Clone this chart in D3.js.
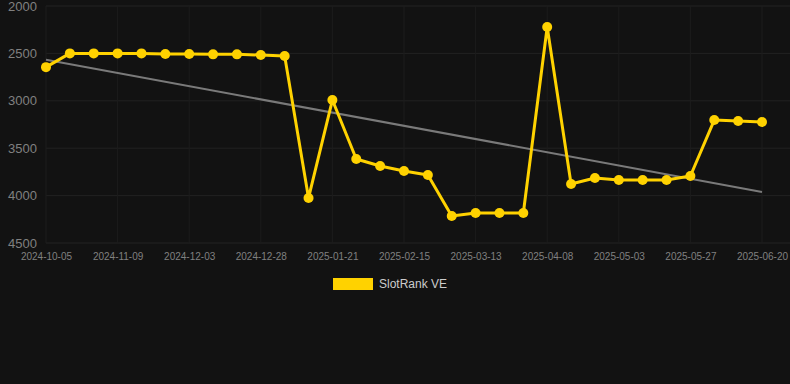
<!DOCTYPE html>
<html>
<head>
<meta charset="utf-8">
<script src="https://cdn.jsdelivr.net/npm/d3@7"></script>
<style>
    body { margin: 0; background: #121212; }
    #chart { width: 790px; height: 384px; }
    .axis text { font-family: Arial, "Liberation Sans", sans-serif; fill: #808080; }
    .axis path, .axis line { stroke: none; }
</style>
</head>
<body>
<div id="chart"></div>
<script>

// categories (every 3rd date is labelled on the axis)
var dates = ["2024-10-05", "2024-10-17", "2024-10-29", "2024-11-09", "2024-11-17", "2024-11-25",
    "2024-12-03", "2024-12-11", "2024-12-19", "2024-12-28", "2025-01-05", "2025-01-13",
    "2025-01-21", "2025-01-29", "2025-02-06", "2025-02-15", "2025-02-23", "2025-03-04",
    "2025-03-13", "2025-03-21", "2025-03-30", "2025-04-08", "2025-04-16", "2025-04-25",
    "2025-05-03", "2025-05-11", "2025-05-19", "2025-05-27", "2025-06-04", "2025-06-12",
    "2025-06-20"];

// SlotRank VE rank values
var ranks = [2645, 2500, 2500, 2500, 2500, 2506, 2506, 2510, 2510, 2517, 2527, 4025,
    2992, 3614, 3688, 3740, 3783, 4215, 4184, 4184, 4184, 2221, 3878, 3814,
    3835, 3835, 3835, 3793, 3203, 3213, 3224];

var yTicks = [2000, 2500, 3000, 3500, 4000, 4500];
var seriesName = "SlotRank VE";

var margin = { top: 6, right: 0, bottom: 141, left: 46 };
var width = 790 - margin.left - margin.right,
    height = 384 - margin.top - margin.bottom;

var svg = d3.select("#chart").append("svg")
    .attr("width", 790)
    .attr("height", 384)
    .append("g")
    .attr("transform", "translate(" + margin.left + "," + margin.top + ")");

var x = d3.scalePoint()
    .domain(dates)
    .range([0, 716]);

var y = d3.scaleLinear()
    .domain([2000, 4500])
    .range([0, height]);

var labelled = dates.filter(function(d, i) { return i % 3 == 0; });

// grid
svg.append("g").selectAll("line.h")
    .data(yTicks)
    .enter().append("line")
    .attr("x1", 0).attr("x2", width)
    .attr("y1", d => y(d)).attr("y2", d => y(d))
    .attr("stroke", "#222").attr("stroke-width", 1);

svg.append("g").selectAll("line.v")
    .data(labelled)
    .enter().append("line")
    .attr("x1", d => x(d)).attr("x2", d => x(d))
    .attr("y1", 0).attr("y2", height)
    .attr("stroke", "#1c1c1c").attr("stroke-width", 1);

// axes
var yAxis = d3.axisLeft(y).tickValues(yTicks).tickFormat(d3.format("d")).tickSize(0).tickPadding(9);
svg.append("g")
    .attr("class", "axis")
    .call(yAxis)
    .selectAll("text")
    .style("font-size", "13px");

var xAxis = d3.axisBottom(x).tickValues(labelled).tickSize(0).tickPadding(10);
svg.append("g")
    .attr("class", "axis")
    .attr("transform", "translate(0," + height + ")")
    .call(xAxis)
    .selectAll("text")
    .style("font-size", "10px");

// trend line (least squares on index)
var n = ranks.length;
var mx = d3.mean(d3.range(n)), my = d3.mean(ranks);
var sxy = d3.sum(ranks, (v, i) => (i - mx) * (v - my));
var sxx = d3.sum(d3.range(n), i => (i - mx) * (i - mx));
var slope = sxy / sxx, icpt = my - slope * mx;

svg.append("line")
    .attr("x1", x(dates[0])).attr("y1", y(icpt))
    .attr("x2", x(dates[n - 1])).attr("y2", y(icpt + slope * (n - 1)))
    .attr("stroke", "#7a7a7a").attr("stroke-width", 2);

// series
var line = d3.line()
    .x((d, i) => x(dates[i]))
    .y(d => y(d));

svg.append("path")
    .datum(ranks)
    .attr("fill", "none")
    .attr("stroke", "#ffd200")
    .attr("stroke-width", 3)
    .attr("stroke-linejoin", "round")
    .attr("d", line);

svg.selectAll(".dot")
    .data(ranks)
    .enter().append("circle")
    .attr("class", "dot")
    .attr("cx", (d, i) => x(dates[i]))
    .attr("cy", d => y(d))
    .attr("r", 5)
    .attr("fill", "#ffd200");

// legend
var legend = svg.append("g")
    .attr("transform", "translate(" + (333 - margin.left) + "," + (278 - margin.top) + ")");
legend.append("rect")
    .attr("width", 40).attr("height", 12)
    .attr("fill", "#ffd200");
legend.append("text")
    .attr("x", 46).attr("y", 10)
    .attr("fill", "#cccccc")
    .style("font-family", "Arial, 'Liberation Sans', sans-serif")
    .style("font-size", "12px")
    .text(seriesName);

</script>
</body>
</html>
